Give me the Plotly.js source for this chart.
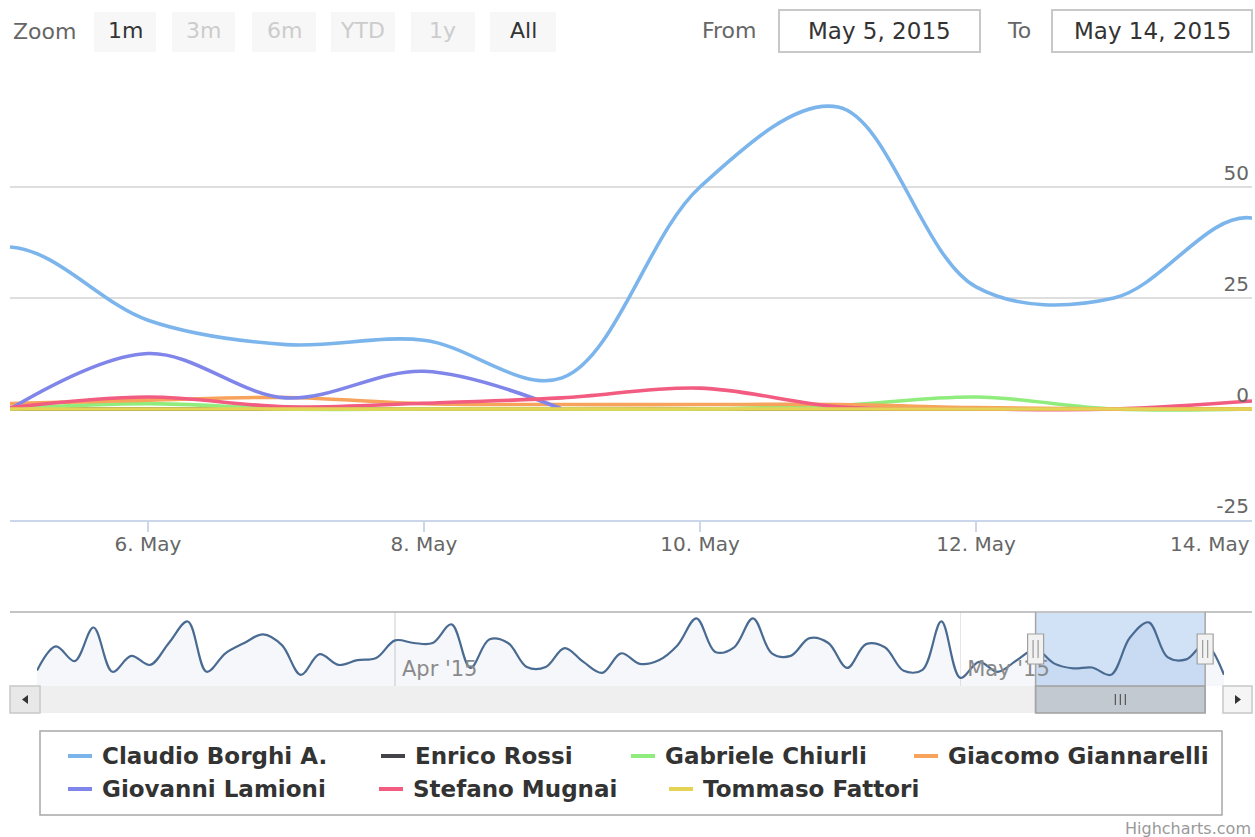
<!DOCTYPE html>
<html>
<head>
<meta charset="utf-8">
<script src="https://cdn.plot.ly/plotly-3.0.1.min.js"></script>
<style>
  html, body { margin: 0; padding: 0; background: #fff; }
  #chart { width: 1255px; height: 837px; }
</style>
</head>
<body>
<div id="chart"></div>
<script>
// ---- series data -------------------------------------------------------
const seriesNames = ['Claudio Borghi A.', 'Enrico Rossi', 'Gabriele Chiurli',
  'Giacomo Giannarelli', 'Giovanni Lamioni', 'Stefano Mugnai', 'Tommaso Fattori'];
const seriesColors = ['#7cb5ec', '#434348', '#90ed7d', '#f7a35c', '#8085e9', '#f15c80', '#e4d354'];

// Full daily history (13 Mar – 15 May 2015), also shown in the navigator
const historyStart = '2015-03-13';
const claudioBorghi = [12, 40, 23, 62, 10.5, 29, 18.5, 44, 69, 10.5, 32, 44, 54, 41.5, 7, 31,
  18.5, 24, 26.5, 47, 44, 44, 65.7, 15, 48, 44, 16, 16, 38, 22, 9.3, 32, 19.7, 24, 41.5, 72.6,
  33.5, 39, 72.6, 32, 29, 49.6, 44, 15, 42.7, 39, 11.6, 12.8, 69, 3.5, 22, 10.5, 24,
  36.5, 20, 14.5, 15.5, 7, 50, 68, 27.5, 25, 43, 7];

// Visible window 5 – 14 May 2015
const windowDays = ['2015-05-05', '2015-05-06', '2015-05-07', '2015-05-08', '2015-05-09',
  '2015-05-10', '2015-05-11', '2015-05-12', '2015-05-13', '2015-05-14'];
const enricoRossi        = [0, 0, 0, 0, 0, 0, 0, 0, 0, 0];
const gabrieleChiurli    = [0, 1.2, 0, 0, 0, 0, 0.8, 2.7, 0, 0];
const giacomoGiannarelli = [1.2, 2.0, 2.6, 1.2, 1.0, 1.0, 1.0, 0.3, 0, 0];
const giovanniLamioni    = [0, 12.5, 2.5, 8.5, 0, null, null, null, null, null];
const stefanoMugnai      = [0.3, 2.7, 0.5, 1.3, 2.5, 4.7, 0.5, 0, 0, 1.8];
const tommasoFattori     = [0, 0, 0, 0, 0, 0, 0, 0, 0, 0];

// Axis ticks
const yTicks = [-25, 0, 25, 50, 75];
const yTickText = ['-25', '0', '25', '50', ''];
const xTicks = ['2015-05-06', '2015-05-08', '2015-05-10', '2015-05-12', '2015-05-14'];
const navTicks = ['2015-04-01', '2015-05-01'];
const navRange = ['2015-03-13', '2015-05-15'];
const navYRange = [-6, 80];

// Range selector / input box labels
const zoomButtons = ['1m', '3m', '6m', 'YTD', '1y', 'All'];
const zoomEnabled = [true, false, false, false, false, true];
const fromText = 'May 5, 2015';
const toText = 'May 14, 2015';

// ---- helpers ------------------------------------------------------------
const W = 1255, H = 837;
const px = v => v / W;
const py = v => 1 - v / H;
const FONT = 'DejaVu Sans, Verdana, sans-serif';

function isoDay(start, n) {
  const d = new Date(start + 'T00:00:00Z');
  d.setUTCDate(d.getUTCDate() + n);
  return d.toISOString().slice(0, 10);
}
const historyDays = claudioBorghi.map((_, i) => isoDay(historyStart, i));

const windowSeries = [null, enricoRossi, gabrieleChiurli, giacomoGiannarelli,
  giovanniLamioni, stefanoMugnai, tommasoFattori];

// ---- traces ---------------------------------------------------------------
const traces = [];
seriesNames.forEach((name, i) => {
  const isFirst = i === 0;
  traces.push({
    type: 'scatter', mode: 'lines', name,
    x: isFirst ? historyDays : windowDays,
    y: isFirst ? claudioBorghi : windowSeries[i],
    line: { color: seriesColors[i], width: 3.6, shape: 'spline', smoothing: 1 },
    xaxis: 'x', yaxis: 'y', showlegend: false, hoverinfo: 'skip', cliponaxis: true
  });
});
// navigator baseline + navigator series
traces.push({
  type: 'scatter', mode: 'lines', x: historyDays,
  y: historyDays.map(() => navYRange[0]),
  line: { width: 0 }, xaxis: 'x2', yaxis: 'y2', showlegend: false, hoverinfo: 'skip'
});
traces.push({
  type: 'scatter', mode: 'lines', x: historyDays, y: claudioBorghi,
  line: { color: '#4a6b91', width: 2.2, shape: 'spline', smoothing: 1 },
  fill: 'tonexty', fillcolor: 'rgba(51,92,173,0.05)',
  xaxis: 'x2', yaxis: 'y2', showlegend: false, hoverinfo: 'skip'
});

// ---- shapes & annotations ----------------------------------------------
const shapes = [];
const annotations = [];
const rect = (x0, y0, x1, y1, fill, line, lw) => shapes.push({
  type: 'rect', xref: 'paper', yref: 'paper', x0: px(x0), x1: px(x1), y0: py(y1), y1: py(y0),
  fillcolor: fill, line: { color: line || 'rgba(0,0,0,0)', width: lw || 0 }, layer: 'above'
});
const label = (text, x, y, size, color, anchor) => annotations.push({
  text, xref: 'paper', yref: 'paper', x: px(x), y: py(y), xanchor: anchor || 'left',
  yanchor: 'middle', showarrow: false, font: { family: FONT, size, color }
});

// range selector
label('Zoom', 11, 32, 22, '#666');
const btnX = [[94, 156], [172, 235], [252, 316], [331, 395], [411, 475], [490, 556]];
zoomButtons.forEach((b, i) => {
  rect(btnX[i][0], 12, btnX[i][1], 52, '#f7f7f7');
  label(b, (btnX[i][0] + btnX[i][1]) / 2, 31, 22, zoomEnabled[i] ? '#333' : '#cccccc', 'center');
});
label('From', 700, 31, 22, '#666');
rect(779, 10, 980, 52, '#fff', '#c8c8c8', 2);
label(fromText, 879.5, 31, 23, '#333', 'center');
label('To', 1005, 31, 22, '#666');
rect(1052, 10, 1252, 52, '#fff', '#c8c8c8', 2);
label(toText, 1152, 31, 23, '#333', 'center');

// last x label, right-justified at the plot edge
annotations.push({
  text: '14. May', xref: 'x', yref: 'paper', x: xTicks[xTicks.length - 1], y: py(544),
  xanchor: 'right', yanchor: 'middle', showarrow: false, font: { family: FONT, size: 20, color: '#666' }
});

// navigator outline
shapes.push({ type: 'line', xref: 'paper', yref: 'paper', x0: px(10), x1: px(1252), y0: py(612), y1: py(612),
  line: { color: '#b0b0b0', width: 1.5 } });
// selected window mask
shapes.push({ type: 'rect', xref: 'x2', yref: 'paper', x0: windowDays[0], x1: windowDays[windowDays.length - 1],
  y0: py(686), y1: py(613), fillcolor: 'rgba(102,160,225,0.3)', line: { width: 0 }, layer: 'below' });

// scrollbar
shapes.push({ type: 'rect', xref: 'x2', yref: 'paper', x0: navRange[0], x1: windowDays[0],
  y0: py(713), y1: py(686), fillcolor: '#efefef', line: { width: 0 } });
shapes.push({ type: 'rect', xref: 'x2', yref: 'paper', x0: windowDays[0], x1: windowDays[windowDays.length - 1],
  y0: py(713), y1: py(686), fillcolor: '#c3c9d1', line: { color: '#a0a0a0', width: 1.5 } });
const midWin = '2015-05-09T12:00:00';
[-5, 0, 5].forEach(o => shapes.push({ type: 'line', xref: 'x2', yref: 'paper', xsizemode: 'pixel',
  xanchor: midWin, x0: o, x1: o, y0: py(705), y1: py(694), line: { color: '#555', width: 1.2 } }));
// mask edges
[windowDays[0], windowDays[windowDays.length - 1]].forEach(d => {
  shapes.push({ type: 'line', xref: 'x2', yref: 'paper', x0: d, x1: d, y0: py(713), y1: py(612),
    line: { color: '#a6a6a6', width: 1.5 } });
  shapes.push({ type: 'rect', xref: 'x2', yref: 'paper', xsizemode: 'pixel', xanchor: d, x0: -8, x1: 8,
    y0: py(664), y1: py(634), fillcolor: '#f2f2f2', line: { color: '#a0a0a0', width: 1.2 } });
  [-2.5, 2.5].forEach(o => shapes.push({ type: 'line', xref: 'x2', yref: 'paper', xsizemode: 'pixel',
    xanchor: d, x0: o, x1: o, y0: py(658), y1: py(640), line: { color: '#999', width: 1.2 } }));
});
// scrollbar buttons
rect(10, 686, 40, 713, '#e8e8e8', '#c8c8c8', 1.5);
rect(1223, 686, 1252, 713, '#f5f5f5', '#c8c8c8', 1.5);
shapes.push({ type: 'path', xref: 'paper', yref: 'paper', fillcolor: '#333', line: { width: 0 },
  path: `M ${px(28)} ${py(695)} L ${px(22)} ${py(699.5)} L ${px(28)} ${py(704)} Z` });
shapes.push({ type: 'path', xref: 'paper', yref: 'paper', fillcolor: '#333', line: { width: 0 },
  path: `M ${px(1235)} ${py(695)} L ${px(1241)} ${py(699.5)} L ${px(1235)} ${py(704)} Z` });

// legend
rect(40, 731, 1222, 815, '#fff', '#a8a8a8', 1.5);
const legendPos = [[102, 756], [415, 756], [665, 756], [948, 756], [102, 789], [413, 789], [703, 789]];
seriesNames.forEach((name, i) => {
  const [tx, ty] = legendPos[i];
  shapes.push({ type: 'line', xref: 'paper', yref: 'paper', x0: px(tx - 34), x1: px(tx - 10),
    y0: py(ty), y1: py(ty), line: { color: seriesColors[i], width: 4 } });
  label('<b>' + name + '</b>', tx - 2, ty, 23, '#333');
});

// credits
label('Highcharts.com', 1253, 828, 16, '#999', 'right');

// x tick labels in "6. May" form, the last one is justified separately
const xLabels = xTicks.map(d => {
  const dt = new Date(d + 'T00:00:00Z');
  return dt.getUTCDate() + '. ' + dt.toLocaleString('en-US', { month: 'short', timeZone: 'UTC' });
});
xLabels[xLabels.length - 1] = '';

// ---- layout -------------------------------------------------------------
const layout = {
  width: W, height: H,
  margin: { l: 0, r: 0, t: 0, b: 0 },
  paper_bgcolor: '#fff', plot_bgcolor: 'rgba(0,0,0,0)',
  showlegend: false,
  font: { family: FONT, color: '#666' },
  xaxis: {
    type: 'date', domain: [px(10), px(1252)], anchor: 'y',
    range: [windowDays[0], windowDays[windowDays.length - 1]],
    tickvals: xTicks, ticktext: xLabels,
    showgrid: false, zeroline: false,
    showline: true, linecolor: '#ccd6eb', linewidth: 1.5,
    ticks: 'outside', ticklen: 10, tickcolor: '#ccd6eb', tickwidth: 1.5,
    ticklabelstandoff: -5,
    tickfont: { family: FONT, size: 20, color: '#666' }
  },
  yaxis: {
    domain: [py(520), py(76)], anchor: 'x', side: 'right',
    range: [-25, 75], tickvals: yTicks, ticktext: yTickText,
    ticklabelposition: 'inside top',
    showgrid: true, gridcolor: '#dedede', gridwidth: 1.5,
    zeroline: false, showline: false, ticks: '',
    tickfont: { family: FONT, size: 20, color: '#666' }
  },
  xaxis2: {
    type: 'date', domain: [px(37), px(1224)], anchor: 'y2',
    range: navRange, tickvals: navTicks, tickformat: "%b '%y",
    ticklabelposition: 'inside right', ticklabelshift: 7,
    showgrid: true, gridcolor: '#e6e6e6', gridwidth: 1.2,
    zeroline: false, showline: false, ticks: '',
    tickfont: { family: FONT, size: 21, color: '#8a8a8a' }
  },
  yaxis2: {
    domain: [py(686), py(612)], anchor: 'x2', range: navYRange,
    showgrid: false, zeroline: false, showticklabels: false, ticks: ''
  },
  shapes, annotations
};

Plotly.newPlot('chart', traces, layout, { displayModeBar: false, staticPlot: true });
</script>
</body>
</html>
